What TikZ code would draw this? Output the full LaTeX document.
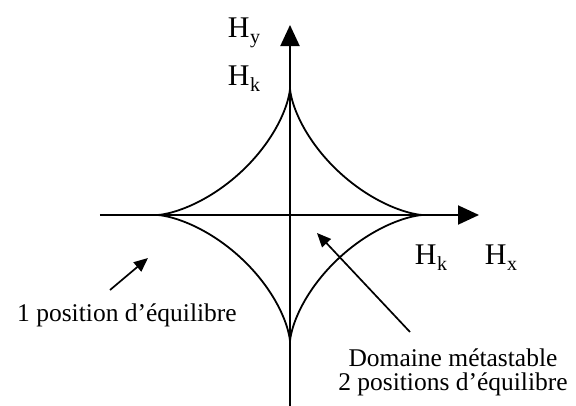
\documentclass[tikz,border=0pt]{standalone}
\usepackage{fontspec}
\setmainfont{Liberation Serif}
\usetikzlibrary{arrows.meta}
\tikzset{
  axe/.style={line width=2pt,-{Triangle[length=21pt,width=19pt]}},
  fleche/.style={line width=1.7pt,-{Triangle[length=14pt,width=12pt]}},
  etiq/.style={font=\fontsize{30}{36}\selectfont,inner sep=0pt},
  texte/.style={font=\fontsize{25.5}{24}\selectfont,align=center,inner sep=0pt}
}
\newcommand{\Hsub}[1]{H\kern0.5pt\raisebox{-6pt}{\fontsize{20}{20}\selectfont #1}}
\begin{document}
\begin{tikzpicture}[x=1pt,y=1pt]
    \useasboundingbox (-290,-190) rectangle (286,215);

    % Axes
    \coordinate (xg) at (-190,0);
    \coordinate (xd) at (189,0);
    \coordinate (yb) at (0,-192);
    \coordinate (yh) at (0,190);
    \draw[axe] (xg) -- (xd);
    \draw[axe] (yb) -- (yh);

    % Astroide
    \draw[line width=1.8pt] plot[domain=0:360,samples=361,smooth]
      ({133*cos(\x)*cos(\x)*cos(\x)},{127*sin(\x)*sin(\x)*sin(\x)}) -- cycle;

    % Etiquettes des axes
    \node[etiq] (hy) at (-46,182) {\Hsub{y}};
    \node[etiq] (hky) at (-46,136) {\Hsub{k}};
    \node[etiq] (hkx) at (141,-43) {\Hsub{k}};
    \node[etiq] (hx) at (211,-43) {\Hsub{x}};

    % Une position
    \node[texte] (une) at (-163,-100) {1 position d’équilibre};
    \coordinate (a1) at (-180,-75);
    \coordinate (b1) at (-142,-43);
    \draw[fleche] (a1) -- (b1);

    % Domaine metastable
    \node[texte] (deux) at (163,-157) {Domaine métastable\\2 positions d’équilibre};
    \coordinate (a2) at (120,-117);
    \coordinate (b2) at (27,-18);
    \draw[fleche] (a2) -- (b2);
\end{tikzpicture}
\end{document}
